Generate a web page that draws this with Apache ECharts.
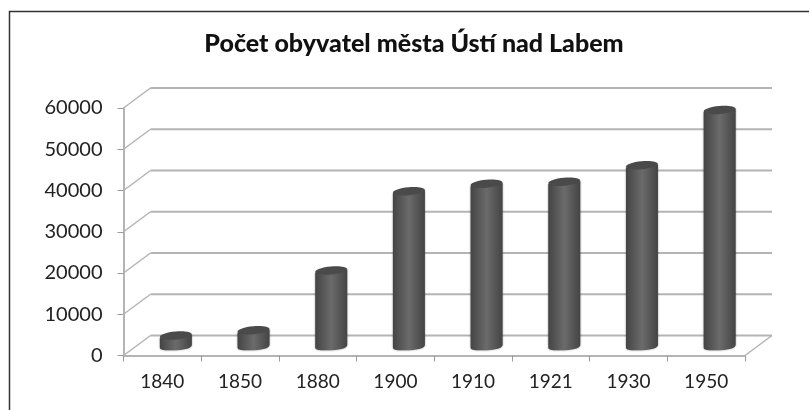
<!DOCTYPE html>
<html>
<head>
<meta charset="utf-8">
<style>
  html, body { margin: 0; padding: 0; background: #fff; }
  #chart { width: 809px; height: 410px; }
</style>
<script src="https://cdn.jsdelivr.net/npm/echarts@6/dist/echarts.min.js"></script>
</head>
<body>
<div id="chart"></div>
<script>
  const years = ['1840', '1850', '1880', '1900', '1910', '1921', '1930', '1950'];
  const population = [2400, 3700, 18200, 37400, 39200, 39700, 43700, 57100];
  const yTicks = [0, 10000, 20000, 30000, 40000, 50000, 60000];

  // depth of the fake 3D box
  const depthX = 27;
  const depthY = -20;
  const gridGrey = '#b4b4b4';

  let chart = echarts.init(document.getElementById('chart'));

  function renderWall(params, api) {
    let v = api.value(0);
    let left = api.coord([0, v]);
    let right = api.coord([years.length - 1, v]);
    let band = api.size([1, 0])[0];
    let x0 = left[0] - band / 2;
    let x1 = right[0] + band / 2;
    let y = left[1];
    let children = [
      { type: 'line', shape: { x1: x0, y1: y, x2: x0 + depthX, y2: y + depthY }, style: { stroke: gridGrey, lineWidth: 1.5 } },
      { type: 'line', shape: { x1: x0 + depthX, y1: y + depthY, x2: x1 + depthX, y2: y + depthY }, style: { stroke: gridGrey, lineWidth: 2 } }
    ];
    // floor has its right side as well
    if (v === 0) {
      children.push({ type: 'line', shape: { x1: x1, y1: y, x2: x1 + depthX, y2: y + depthY }, style: { stroke: gridGrey, lineWidth: 1.5 } });
    }
    return { type: 'group', children: children };
  }

  function renderBar(params, api) {
    let top = api.coord([api.value(0), api.value(1)]);
    let base = api.coord([api.value(0), 0]);
    let cx = top[0] + depthX / 2;
    let yTop = top[1] + depthY / 2;
    let yBase = base[1] + depthY / 2;
    let w = 32;
    let rx = w / 2;
    let ry = 4;
    // ellipses lean up to the right a little
    let tilt = 0.09;
    let side = new echarts.graphic.LinearGradient(0, 0, 1, 0, [
      { offset: 0, color: '#444444' },
      { offset: 0.5, color: '#6b6b6b' },
      { offset: 1, color: '#444444' }
    ]);
    return {
      type: 'group',
      children: [
        {
          type: 'path',
          shape: {
            pathData: 'M' + (cx - rx) + ' ' + (yTop + 1.5) +
              'L' + (cx - rx) + ' ' + (yBase + 1.5) +
              'Q' + (cx - rx) + ' ' + (yBase + ry + 1) + ' ' + cx + ' ' + (yBase + ry) +
              'Q' + (cx + rx) + ' ' + (yBase + ry - 1) + ' ' + (cx + rx) + ' ' + (yBase - 1.5) +
              'L' + (cx + rx) + ' ' + (yTop - 1.5) + 'Z',
            x: cx - rx, y: yTop - 1.5, width: w, height: yBase - yTop + ry + 3
          },
          style: { fill: side, shadowBlur: 2, shadowColor: 'rgba(0,0,0,0.45)' }
        },
        {
          type: 'ellipse',
          shape: { cx: cx, cy: yTop, rx: rx, ry: ry },
          rotation: tilt,
          originX: cx,
          originY: yTop,
          style: { fill: '#4a4a4a' }
        }
      ]
    };
  }

  chart.setOption({
    animation: false,
    backgroundColor: '#fff',
    title: {
      text: 'Počet obyvatel města Ústí nad Labem',
      left: 409,
      top: 26,
      textAlign: 'center',
      textStyle: { fontFamily: 'Lato', fontSize: 25, fontWeight: 900, color: '#111' }
    },
    graphic: [{
      type: 'polyline',
      shape: { points: [[9.5, 410], [9.5, 11.5], [809, 11.5]] },
      style: { fill: 'none', stroke: '#333', lineWidth: 1.5 },
      silent: true
    }],
    grid: { left: 123.5, right: 64, top: 108, bottom: 54.5 },
    xAxis: {
      type: 'category',
      data: years,
      axisLine: { lineStyle: { color: gridGrey, width: 2 } },
      axisTick: { show: true, length: 6, alignWithLabel: false, lineStyle: { color: '#999', width: 1 } },
      axisLabel: { color: '#222', fontFamily: 'Lato', fontSize: 19, margin: 17 }
    },
    yAxis: {
      type: 'value',
      min: 0,
      max: 60000,
      interval: 10000,
      axisLine: { show: true, lineStyle: { color: gridGrey, width: 2 } },
      axisTick: { show: true, length: 6, lineStyle: { color: '#999', width: 1 } },
      axisLabel: { color: '#222', fontFamily: 'Lato', fontSize: 20, margin: 21, padding: [3, 0, 0, 0], formatter: v => String(v) },
      splitLine: { show: false }
    },
    series: [
      {
        type: 'custom',
        silent: true,
        renderItem: renderWall,
        data: yTicks.map(t => [t]),
        encode: { y: 0 },
        z: 1
      },
      {
        type: 'custom',
        renderItem: renderBar,
        data: population.map((p, i) => [i, p]),
        encode: { x: 0, y: 1 },
        z: 3
      }
    ]
  });
</script>
</body>
</html>
